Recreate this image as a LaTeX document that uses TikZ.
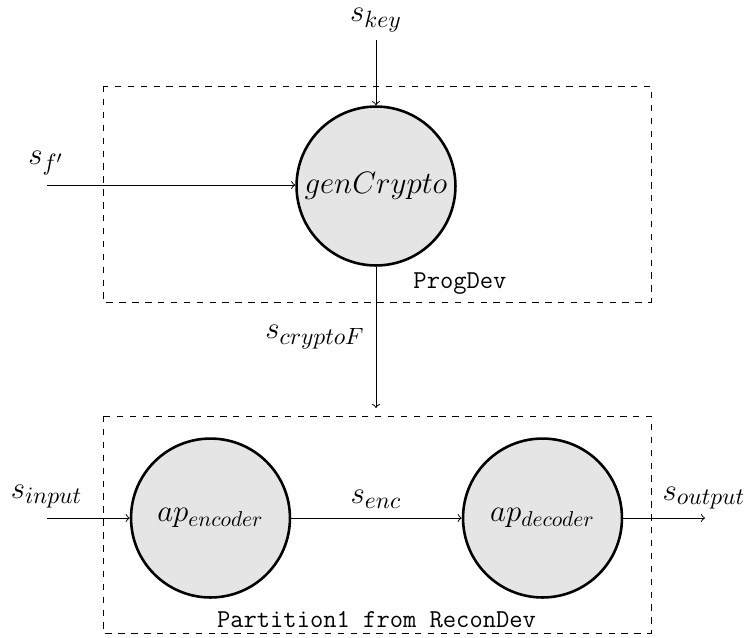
\documentclass[tikz,border=0pt]{standalone}
\usetikzlibrary{arrows}
\begin{document}
\begin{tikzpicture}[x=0.465pt,y=-0.465pt,
  proc/.style={circle,draw,line width=1.2pt,fill=gray!20,minimum size=73.9pt,inner sep=0pt,font=\Large},
  box/.style={draw,dashed,line width=0.45pt},
  flow/.style={->,line width=0.45pt},
  lbl/.style={font=\fontsize{15.6}{19}\selectfont,inner sep=0pt},
  ttl/.style={font=\large\ttfamily,inner sep=0pt}]
\useasboundingbox (0,0) rectangle (746,637);
% boxes
\draw[box] (103,86) rectangle (651,302);
\draw[box] (103,416) rectangle (651,633);
% processes
\node[proc] (gen) at (376,186) {$genCrypto$};
\node[proc] (enc) at (210.5,518) {$ap_{encoder}$};
\node[proc] (dec) at (542.5,518) {$ap_{decoder}$};
% free ends
\coordinate (keyin) at (376,40);
\coordinate (fin) at (47,185);
\coordinate (cryout) at (376,408);
\coordinate (inpin) at (47,518);
\coordinate (outend) at (705,518);
% connectors
\draw[flow] (keyin) -- (gen);
\draw[flow] (fin) -- (fin -| gen.west);
\draw[flow] (gen) -- (cryout);
\draw[flow] (inpin) -- (enc);
\draw[flow] (enc) -- (dec);
\draw[flow] (dec) -- (outend);
% labels
\node[lbl] (lkey) at (376,20) {$s_{key}$};
\node[lbl] (lf) at (46,163) {$s_{f'}$};
\node[lbl] (lcry) at (315,337) {$s_{cryptoF}$};
\node[lbl] (linp) at (46.5,497) {$s_{input}$};
\node[lbl] (lenc) at (376,499) {$s_{enc}$};
\node[lbl] (lout) at (704,498) {$s_{output}$};
\node[ttl] (prog) at (460,284) {ProgDev};
\node[ttl] (part) at (376.5,620) {Partition1 from ReconDev};
\end{tikzpicture}
\end{document}
